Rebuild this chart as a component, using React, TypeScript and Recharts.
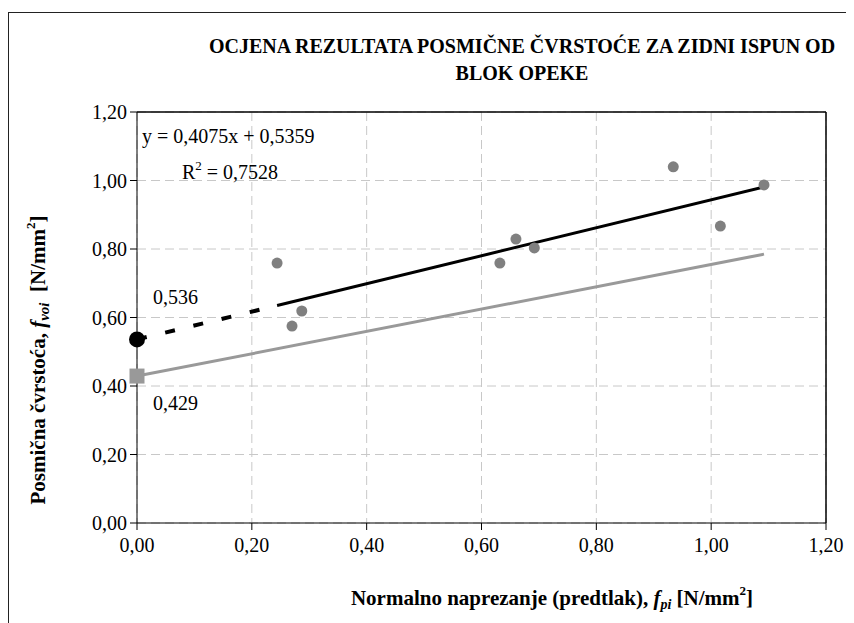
import { ComposedChart, CartesianGrid, Line, ReferenceLine, Scatter, XAxis, YAxis } from 'recharts'

// measured test results (predtlak vs. posmična čvrstoća)
const predtlak = [0.244, 0.27, 0.287, 0.632, 0.66, 0.692, 0.934, 1.016, 1.092]
const cvrstoca = [0.759, 0.575, 0.619, 0.759, 0.829, 0.803, 1.04, 0.867, 0.987]

// trend line: dashed part to first point, then solid
const trendDashX = [0, 0.244]
const trendDashY = [0.536, 0.635]
const trendSolidX = [0.244, 1.092]
const trendSolidY = [0.635, 0.981]

// characteristic (reduced) line
const charX = [0, 1.092]
const charY = [0.429, 0.785]

const interceptMean = 0.536
const interceptChar = 0.429

const ticks = [0, 0.2, 0.4, 0.6, 0.8, 1.0, 1.2]

const zip = (xs: number[], ys: number[]) => xs.map((x, i) => ({ x, y: ys[i] }))

const points = zip(predtlak, cvrstoca)
const dashData = zip(trendDashX, trendDashY)
const solidData = zip(trendSolidX, trendSolidY)
const charData = zip(charX, charY)

const fmt = (v: number, d = 2) => v.toFixed(d).replace('.', ',')

const serif = '"Liberation Serif", "Times New Roman", serif'

const W = 846
const H = 615

const axisTick = { fill: '#000', fontSize: 20, fontFamily: serif }

export default function App() {
  return (
    <div style={{ position: 'relative', width: W, height: H }}>
      <div
        style={{
          position: 'absolute',
          left: 0,
          top: 4,
          width: W,
          height: H - 4,
          borderLeft: '1.5px solid #222',
          borderTop: '1.5px solid #222',
          boxSizing: 'border-box',
        }}
      />
      <ComposedChart
        width={W}
        height={H}
        margin={{ top: 104, right: 28, bottom: 60, left: 69 }}
        style={{ position: 'absolute', left: 0, top: 0 }}
      >
        <CartesianGrid stroke="#c8c8c8" strokeDasharray="9 5" />
        <XAxis
          type="number"
          dataKey="x"
          domain={[0, 1.2]}
          ticks={ticks}
          tickFormatter={(v: number) => fmt(v)}
          tick={axisTick}
          tickSize={7}
          tickMargin={8}
          height={40}
          stroke="#000"
        />
        <YAxis
          type="number"
          dataKey="y"
          domain={[0, 1.2]}
          ticks={ticks}
          tickFormatter={(v: number) => fmt(v)}
          tick={axisTick}
          tickSize={7}
          tickMargin={3}
          width={60}
          stroke="#000"
        />
        <ReferenceLine y={1.2} stroke="#000" strokeWidth={1.5} />
        <ReferenceLine x={1.2} stroke="#000" strokeWidth={1.5} />
        <Scatter
          data={points}
          isAnimationActive={false}
          shape={(p: any) => <circle cx={p.cx} cy={p.cy} r={5.5} fill="#808080" />}
        />
        <Line
          data={charData}
          dataKey="y"
          stroke="#999999"
          strokeWidth={3}
          dot={false}
          activeDot={false}
          isAnimationActive={false}
        />
        <Line
          data={dashData}
          dataKey="y"
          stroke="#000"
          strokeWidth={4}
          strokeDasharray="10 19"
          dot={false}
          activeDot={false}
          isAnimationActive={false}
        />
        <Line
          data={solidData}
          dataKey="y"
          stroke="#000"
          strokeWidth={3}
          dot={false}
          activeDot={false}
          isAnimationActive={false}
        />
        <Scatter
          data={[{ x: 0, y: interceptChar }]}
          isAnimationActive={false}
          shape={(p: any) => (
            <rect x={p.cx - 7.5} y={p.cy - 7.5} width={15} height={15} fill="#999999" />
          )}
        />
        <Scatter
          data={[{ x: 0, y: interceptMean }]}
          isAnimationActive={false}
          shape={(p: any) => <circle cx={p.cx} cy={p.cy} r={8} fill="#000" />}
        />
      </ComposedChart>
      <svg
        width={W}
        height={H}
        style={{ position: 'absolute', left: 0, top: 0, pointerEvents: 'none' }}
        fontFamily={serif}
      >
        <text x={514} y={45} textAnchor="middle" fontSize={20} fontWeight="bold">
          OCJENA REZULTATA POSMIČNE ČVRSTOĆE ZA ZIDNI ISPUN OD
        </text>
        <text x={514} y={72} textAnchor="middle" fontSize={20} fontWeight="bold">
          BLOK OPEKE
        </text>
        <text x={134} y={135} fontSize={20}>
          y = 0,4075x + 0,5359
        </text>
        <text x={174} y={171} fontSize={20}>
          R<tspan dy={-9} fontSize={13}>2</tspan>
          <tspan dy={9}> = 0,7528</tspan>
        </text>
        <text x={145} y={296} fontSize={20}>
          {fmt(interceptMean, 3)}
        </text>
        <text x={145} y={402} fontSize={20}>
          {fmt(interceptChar, 3)}
        </text>
        <text x={544} y={597} textAnchor="middle" fontSize={21} fontWeight="bold">
          Normalno naprezanje (predtlak),{' '}
          <tspan fontStyle="italic">f</tspan>
          <tspan fontStyle="italic" fontSize={14} dy={4}>pi</tspan>
          <tspan dy={-4}> [N/mm</tspan>
          <tspan fontSize={13} dy={-10}>2</tspan>
          <tspan dy={10}>]</tspan>
        </text>
        <text
          x={0}
          y={0}
          transform="translate(37,352) rotate(-90)"
          textAnchor="middle"
          fontSize={21}
          fontWeight="bold"
        >
          Posmična čvrstoća,{' '}
          <tspan fontStyle="italic">f</tspan>
          <tspan fontStyle="italic" fontSize={15} dy={4}>voi</tspan>
          <tspan dy={-4}>{'\u00a0\u00a0'}[N/mm</tspan>
          <tspan fontSize={13} dy={-10}>2</tspan>
          <tspan dy={10}>]</tspan>
        </text>
      </svg>
    </div>
  )
}
